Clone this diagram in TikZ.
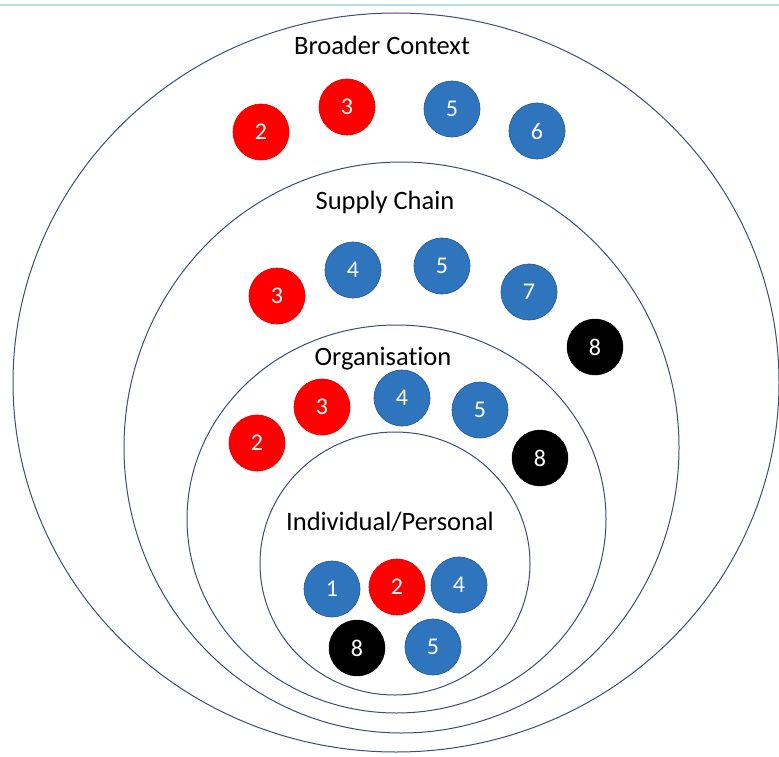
\documentclass[tikz,border=0pt]{standalone}
\usepackage{fontspec}
\setmainfont{Carlito}[Ligatures=NoCommon]
\definecolor{ringline}{RGB}{58,78,120}
\definecolor{dotblue}{RGB}{46,117,190}
\definecolor{dotred}{RGB}{255,0,0}
\definecolor{rulecol}{RGB}{178,222,226}
\begin{document}
\begin{tikzpicture}[x=1pt,y=-1pt,
  ring/.style={draw=ringline,line width=1pt},
  numdot/.style={circle,minimum size=56pt,inner sep=0pt,text=white,
    font=\fontsize{24}{24}\selectfont},
  bluedot/.style={numdot,fill=dotblue,draw=dotblue!75!black,line width=0.6pt},
  reddot/.style={numdot,fill=dotred,draw=dotred!90!black,line width=0.6pt},
  blackdot/.style={numdot,fill=black,draw=black},
  ringtitle/.style={anchor=base,inner sep=0pt,text=black,
    font=\fontsize{26.5}{26.5}\selectfont}]
\useasboundingbox (0,0) rectangle (779,757);
\fill[white] (0,0) rectangle (779,757);

% thin rule along the top edge
\draw[rulecol,line width=2pt] (0,5) -- (779,5);

% nested rings
\draw[ring] (396,382.5) ellipse [x radius=383, y radius=369.5];
\draw[ring] (401.5,447.5) ellipse [x radius=277.5, y radius=285.5];
\draw[ring] (396.5,519) ellipse [x radius=209.5, y radius=194];
\draw[ring] (395,563.5) ellipse [x radius=135, y radius=131.5];

% ring titles
\node[ringtitle] (tBroad) at (382,55) {Broader Context};
\node[ringtitle] (tSupply) at (385,209) {Supply Chain};
\node[ringtitle] (tOrg) at (383,365) {Organisation};
\node[ringtitle] (tInd) at (390,530) {Individual/Personal};

% Broader Context
\node[reddot]  (b2) at (261,132) {2};
\node[reddot]  (b3) at (347,107) {3};
\node[bluedot] (b5) at (452,109) {5};
\node[bluedot] (b6) at (537,131) {6};

% Supply Chain
\node[reddot]   (s3) at (277,296) {3};
\node[bluedot]  (s4) at (353,270) {4};
\node[bluedot]  (s5) at (442,266) {5};
\node[bluedot]  (s7) at (529,292) {7};
\node[blackdot] (s8) at (595,347) {8};

% Organisation
\node[reddot]   (o2) at (257,443) {2};
\node[reddot]   (o3) at (322,407) {3};
\node[bluedot]  (o4) at (402,398) {4};
\node[bluedot]  (o5) at (480,410) {5};
\node[blackdot] (o8) at (540,458) {8};

% Individual/Personal
\node[bluedot]  (i1) at (332,589) {1};
\node[reddot]   (i2) at (397,587) {2};
\node[bluedot]  (i4) at (459,585) {4};
\node[blackdot] (i8) at (357,648) {8};
\node[bluedot]  (i5) at (433,647) {5};
\end{tikzpicture}
\end{document}
